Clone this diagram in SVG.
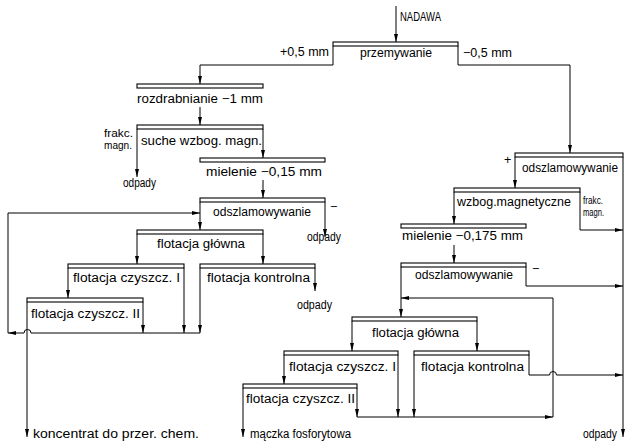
<svg xmlns="http://www.w3.org/2000/svg" width="626" height="446" viewBox="0 0 626 446">
  <style>
    .bar { fill: #fff; stroke: #000; stroke-width: 1.1; }
    .top { fill: none; stroke: #000; stroke-width: 1.6; }
    .ln { fill: none; stroke: #000; stroke-width: 1; marker-end: url(#ah); }
    text { font-family: "Liberation Sans Narrow", "Liberation Sans", Arial, sans-serif; font-size: 12.5px; fill: #000; }
    .sm { font-size: 10px; }
  </style>
  <defs>
    <marker id="ah" viewBox="0 0 8 4" refX="8" refY="2" markerWidth="8" markerHeight="4" markerUnits="userSpaceOnUse" orient="auto">
      <path d="M0,0 L8,2 L0,4 Z" fill="#000"/>
    </marker>
  </defs>

  <rect width="626" height="446" fill="#fff"/>

  <!-- feed -->
  <g id="feed">
    <text x="400" y="21" textLength="41" lengthAdjust="spacingAndGlyphs">NADAWA</text>
  </g>

  <!-- washing -->
  <g id="przemywanie">
    <rect class="bar" x="333" y="42" width="125" height="4"/>
    <text x="360" y="57" textLength="72" lengthAdjust="spacingAndGlyphs">przemywanie</text>
    <text x="280" y="56" textLength="49" lengthAdjust="spacingAndGlyphs">+0,5 mm</text>
    <text x="463" y="57" textLength="49" lengthAdjust="spacingAndGlyphs">−0,5 mm</text>
  </g>

  <!-- coarse branch (+0,5 mm) -->
  <g id="rozdrabnianie">
    <rect class="bar" x="137" y="84" width="126" height="4"/>
    <text x="137" y="103" textLength="126" lengthAdjust="spacingAndGlyphs">rozdrabnianie −1 mm</text>
  </g>
  <g id="suche-wzbog">
    <rect class="bar" x="137" y="125" width="126" height="4"/>
    <text x="141" y="145" textLength="121" lengthAdjust="spacingAndGlyphs">suche wzbog. magn.</text>
    <text class="sm" x="104" y="137" textLength="29" lengthAdjust="spacingAndGlyphs">frakc.</text>
    <text class="sm" x="104" y="149" textLength="28" lengthAdjust="spacingAndGlyphs">magn.</text>
    <text x="123" y="187" textLength="33" lengthAdjust="spacingAndGlyphs">odpady</text>
  </g>
  <g id="mielenie-1">
    <rect class="bar" x="200" y="158" width="125" height="4"/>
    <text x="206" y="176" textLength="116" lengthAdjust="spacingAndGlyphs">mielenie −0,15 mm</text>
  </g>
  <g id="odszlamowywanie-1">
    <rect class="bar" x="200" y="198" width="125" height="4"/>
    <text x="213" y="216" textLength="98" lengthAdjust="spacingAndGlyphs">odszlamowywanie</text>
    <text x="330" y="211">−</text>
    <text x="307" y="241" textLength="34" lengthAdjust="spacingAndGlyphs">odpady</text>
  </g>
  <g id="flotacja-glowna-1">
    <rect class="bar" x="137" y="230" width="126" height="4"/>
    <text x="157" y="248" textLength="88" lengthAdjust="spacingAndGlyphs">flotacja główna</text>
  </g>
  <g id="flotacja-czyszcz-I-1">
    <rect class="bar" x="68" y="264" width="116" height="4"/>
    <text x="73" y="282" textLength="107" lengthAdjust="spacingAndGlyphs">flotacja czyszcz. I</text>
  </g>
  <g id="flotacja-kontrolna-1">
    <rect class="bar" x="200" y="264" width="115" height="4"/>
    <text x="207" y="282" textLength="103" lengthAdjust="spacingAndGlyphs">flotacja kontrolna</text>
    <text x="297" y="309" textLength="35" lengthAdjust="spacingAndGlyphs">odpady</text>
  </g>
  <g id="flotacja-czyszcz-II-1">
    <rect class="bar" x="27" y="298" width="116" height="4"/>
    <text x="31" y="318" textLength="109" lengthAdjust="spacingAndGlyphs">flotacja czyszcz. II</text>
    <text x="33" y="438" textLength="166" lengthAdjust="spacingAndGlyphs">koncentrat do przer. chem.</text>
  </g>

  <!-- fine branch (-0,5 mm) -->
  <g id="odszlamowywanie-2">
    <rect class="bar" x="515" y="153" width="108" height="4"/>
    <text x="522" y="172" textLength="96" lengthAdjust="spacingAndGlyphs">odszlamowywanie</text>
    <text x="504" y="164">+</text>
  </g>
  <g id="wzbog-magnetyczne">
    <rect class="bar" x="454" y="188" width="126" height="4"/>
    <text x="457" y="206" textLength="114" lengthAdjust="spacingAndGlyphs">wzbog.magnetyczne</text>
    <text class="sm" x="583" y="204" textLength="20" lengthAdjust="spacingAndGlyphs">frakc.</text>
    <text class="sm" x="583" y="216" textLength="21" lengthAdjust="spacingAndGlyphs">magn.</text>
  </g>
  <g id="mielenie-2">
    <rect class="bar" x="401" y="224" width="125" height="4"/>
    <text x="402" y="240" textLength="121" lengthAdjust="spacingAndGlyphs">mielenie −0,175 mm</text>
  </g>
  <g id="odszlamowywanie-3">
    <rect class="bar" x="401" y="263" width="125" height="4"/>
    <text x="415" y="279" textLength="98" lengthAdjust="spacingAndGlyphs">odszlamowywanie</text>
    <text x="532" y="273">−</text>
  </g>
  <g id="flotacja-glowna-2">
    <rect class="bar" x="352" y="317" width="125" height="4"/>
    <text x="372" y="337" textLength="87" lengthAdjust="spacingAndGlyphs">flotacja główna</text>
  </g>
  <g id="flotacja-czyszcz-I-2">
    <rect class="bar" x="284" y="351" width="114" height="4"/>
    <text x="289" y="371" textLength="107" lengthAdjust="spacingAndGlyphs">flotacja czyszcz. I</text>
  </g>
  <g id="flotacja-kontrolna-2">
    <rect class="bar" x="414" y="351" width="115" height="4"/>
    <text x="421" y="371" textLength="103" lengthAdjust="spacingAndGlyphs">flotacja kontrolna</text>
  </g>
  <g id="flotacja-czyszcz-II-2">
    <rect class="bar" x="243" y="384" width="114" height="4"/>
    <text x="246" y="403" textLength="109" lengthAdjust="spacingAndGlyphs">flotacja czyszcz. II</text>
    <text x="250" y="438" textLength="101" lengthAdjust="spacingAndGlyphs">mączka fosforytowa</text>
  </g>
  <g id="odpady-2">
    <text x="583" y="438" textLength="34" lengthAdjust="spacingAndGlyphs">odpady</text>
  </g>

  <!-- connectors -->
  <g id="connectors">
    <path class="ln" d="M396,6 V42"/>
    <path class="ln" d="M333,46 V65 H200 V84"/>
    <path class="ln" d="M458,46 V65 H570 V153"/>

    <path class="ln" d="M200,107 V125"/>
    <path class="ln" d="M137,129 V177"/>
    <path class="ln" d="M263,129 V158"/>
    <path class="ln" d="M263,180 V198"/>
    <path class="ln" d="M200,202 V230"/>
    <path class="ln" d="M325,202 V237"/>
    <path class="ln" d="M137,234 V264"/>
    <path class="ln" d="M263,234 V264"/>
    <path class="ln" d="M68,268 V298"/>
    <path class="ln" d="M184,268 V333"/>
    <path class="ln" d="M200,268 V333"/>
    <path class="ln" d="M315,268 V291"/>
    <path class="ln" d="M143,302 V333"/>
    <path class="ln" d="M200,333 H31 A3.5,3.5 0 0 0 24,333 H8"/>
    <path class="ln" d="M8,333 V213 H200"/>
    <path class="ln" d="M27,302 V437"/>

    <path class="ln" d="M515,157 V188"/>
    <path class="ln" d="M623,157 V437"/>
    <path class="ln" d="M454,192 V224"/>
    <path class="ln" d="M580,192 V230 H623"/>
    <path class="ln" d="M454,245 V263"/>
    <path class="ln" d="M401,267 V317"/>
    <path class="ln" d="M526,267 V286 H623"/>
    <path class="ln" d="M352,321 V351"/>
    <path class="ln" d="M477,321 V351"/>
    <path class="ln" d="M284,355 V384"/>
    <path class="ln" d="M398,355 V417"/>
    <path class="ln" d="M414,355 V417"/>
    <path class="ln" d="M529,355 V375 H549.5 A3.5,3.5 0 0 1 556.5,375 H623"/>
    <path class="ln" d="M357,388 V417"/>
    <path class="ln" d="M357,417 H553"/>
    <path class="ln" d="M553,417 V298 H401"/>
    <path class="ln" d="M243,388 V437"/>
  </g>
</svg>
